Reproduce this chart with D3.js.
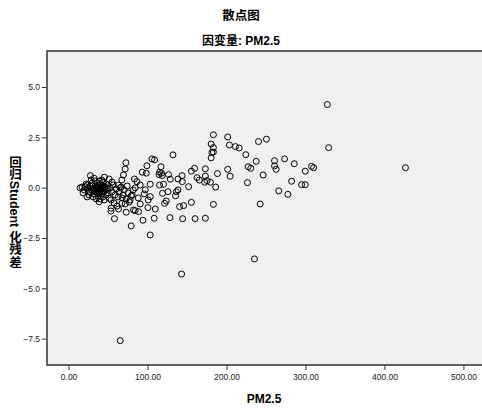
<!DOCTYPE html>
<html>
<head>
<meta charset="utf-8">
<script src="https://cdn.jsdelivr.net/npm/d3@7/dist/d3.min.js"></script>
<style>
  body { margin: 0; background: #fff; }
  text { font-family: "Liberation Sans", Arial, "Noto Sans CJK SC", sans-serif; }
  .tick text { font-size: 8.5px; fill: #222; }
  .bold { font-weight: bold; fill: #000; }
</style>
</head>
<body>
<svg id="chart" width="482" height="408"></svg>
<script>
// PM2.5 vs studentized residual
const sparse = [
  [327.7,4.13],[329.3,1.99],[426.6,0.99],[65.4,-7.60],[235.4,-3.54],[143.1,-4.29],[103.4,-2.35],
  [79.3,-1.90],[58.1,-1.54],[94.2,-1.62],[108.5,-1.52],[128.4,-1.49],[144.4,-1.54],[160.2,-1.54],
  [173.2,-1.52],[183.4,-0.83],[242.6,-0.81],[266.2,-0.16],[277.7,-0.33],[183.4,2.63],[201.5,2.52],
  [180.5,2.17],[183.4,1.99],[183.4,1.77],[181.5,1.75],[180.5,1.48],[173.2,0.94],[203.7,2.12],
  [211.3,2.04],[216.0,1.97],[240.5,2.29],[250.6,2.41],[224.4,1.64],[237.6,1.31],[260.8,1.34],
  [273.5,1.43],[285.8,1.19],[260.8,1.08],[262.9,0.91],[227.4,1.04],[230.7,0.96],[307.7,1.06],
  [310.3,0.99],[299.7,0.82],[201.5,0.91],[204.6,0.57],[188.5,0.70],[173.2,0.58],[175.4,0.35],
  [172.3,0.27],[179.6,0.27],[186.3,0.03],[246.4,0.63],[226.5,0.25],[282.4,0.32],[295.1,0.15],
  [299.7,0.15],[165.6,0.38],[132.2,1.63],[105.6,1.43],[108.9,1.38],[99.2,1.09],[117.0,1.04],
  [93.3,0.77],[98.4,0.72],[115.2,0.77],[117.8,0.72],[114.5,0.65],[118.7,0.60],[126.6,0.65],
  [128.8,0.42],[138.6,0.43],[143.7,0.60],[144.0,0.30],[155.5,0.82],[159.6,0.96],[162.7,0.50],
  [152.0,0.05],[120.3,0.17],[115.2,0.13],[103.4,0.17],[83.5,0.43],[86.5,0.30],[138.6,-0.11],
  [136.4,-0.20],[119.0,-0.28],[125.9,-0.20],[103.4,-0.45],[123.7,-0.66],[121.6,-0.78],[155.5,-0.73],
  [140.6,-0.94],[145.7,-0.89],[109.8,-1.06],[88.6,-1.19],[82.2,-1.11],[73.0,-1.22],[63.2,-1.06],
  [53.6,-1.16],[38.7,-0.70],[100.5,-0.99],[135.5,-0.40],[72.6,1.24],[71.7,0.93],[69.5,0.63],
  [67.5,0.38],[27.7,0.60],[23.9,0.13],[32.4,0.47],[45.4,0.52],[42.1,0.38],[20.9,0.05],[25.1,-0.20],
  [51.8,-0.53],[53.9,-1.02],[63.2,0.13],[65.4,-0.01],[67.5,-0.78],[84.4,-1.14]
];
const cluster = [
  [17.1,0.03],[19.7,-0.11],[22.2,0.18],[24.7,-0.01],[27.3,0.08],[27.3,-0.21],[29.8,0.23],[31.1,-0.06],
  [32.4,-0.31],[33.6,0.08],[34.9,-0.16],[36.2,0.23],[37.4,-0.01],[37.4,-0.41],[38.7,-0.21],[40.0,0.13],
  [41.2,-0.06],[42.5,-0.31],[43.8,0.28],[43.8,-0.46],[45.1,0.03],[46.3,-0.16],[47.6,0.18],[47.6,-0.36],
  [48.9,-0.06],[50.1,-0.26],[34.9,-0.56],[31.1,-0.46],[26.0,-0.36],[40.0,-0.56],[45.1,-0.61],[14.6,-0.01],
  [18.4,-0.26],[23.5,-0.46],[28.6,0.38],[33.6,0.33],[38.7,0.33],[42.5,0.13],[46.3,0.03],[52.7,-0.01],
  [55.2,-0.21],[56.5,0.13],[59.0,-0.36],[60.3,-0.06],[62.8,-0.46],[64.1,-0.21],[66.6,0.03],[69.2,-0.36],
  [70.4,-0.11],[73.0,-0.56],[74.2,0.08],[75.5,-0.26],[53.9,-0.61],[57.7,-0.76],[61.5,-0.91],[67.9,-0.51],
  [71.7,-0.81],[76.8,-0.71],[79.3,-0.41],[81.9,-0.11],[84.4,-0.01],[90.7,0.13],[97.1,-0.11],[80.6,-0.36],
  [88.2,-0.51],[95.8,-0.31],[78.0,-0.61],[100.9,-0.61],[90.7,-0.81],[55.2,0.28],[51.4,0.43],
  [32.4,-0.11],[36.2,-0.26],[40.0,-0.16],[42.5,-0.01],[34.9,0.03],
  [35.5,0.0],[38.0,0.1],[41.0,-0.1],[44.0,-0.2],[39.0,-0.3],[36.0,-0.1],[43.0,0.05],[30.0,0.1],
  [29.0,-0.1],[33.0,-0.2],[45.5,-0.05],[49.5,0.1]
];
const xTicks = [0, 100, 200, 300, 400, 500];
const yTicks = [5, 2.5, 0, -2.5, -5, -7.5];
const title = "散点图";
const subtitle = "因变量: PM2.5";
const xTitle = "PM2.5";
const yTitle = "回归Student 化残差";

const points = sparse.concat(cluster);

const W = 482, H = 408;
const margin = { top: 51, right: 0, bottom: 43, left: 47 };
const innerW = W - margin.left - margin.right + 2;
const innerH = H - margin.top - margin.bottom;

const x = d3.scaleLinear().domain([-27.3, 523.5 + 2 / 0.788]).range([0, innerW]);
const y = d3.scaleLinear().domain([-8.81, 6.79]).range([innerH, 0]);

const svg = d3.select("#chart");

svg.append("text").attr("class", "bold")
  .attr("x", 241).attr("y", 20).attr("text-anchor", "middle")
  .style("font-size", "12.5px").text(title);
svg.append("text").attr("class", "bold")
  .attr("x", 241).attr("y", 45).attr("text-anchor", "middle")
  .style("font-size", "12px").text(subtitle);

const g = svg.append("g").attr("transform", `translate(${margin.left},${margin.top})`);

g.append("rect")
  .attr("x", 0).attr("y", 0).attr("width", innerW).attr("height", innerH)
  .attr("fill", "#f0f0f0").attr("stroke", "#333").attr("stroke-width", 1.5);

const xAxis = d3.axisBottom(x).tickValues(xTicks).tickSize(5).tickPadding(4)
  .tickFormat(d3.format(".2f"));
const gx = g.append("g").attr("transform", `translate(0,${innerH})`).call(xAxis);
gx.select(".domain").remove();
gx.selectAll(".tick line").attr("stroke", "#333");

const yAxis = d3.axisLeft(y).tickValues(yTicks).tickSize(5).tickPadding(2)
  .tickFormat(d3.format(".1f"));
const gy = g.append("g").call(yAxis);
gy.select(".domain").remove();
gy.selectAll(".tick line").attr("stroke", "#333");

g.append("g").selectAll("circle")
  .data(points)
  .enter()
  .append("circle")
  .attr("cx", d => x(d[0]))
  .attr("cy", d => y(d[1]))
  .attr("r", 3)
  .attr("fill", "none")
  .attr("stroke", "#000")
  .attr("stroke-width", 1);

svg.append("text").attr("class", "bold")
  .attr("x", 264).attr("y", 403).attr("text-anchor", "middle")
  .style("font-size", "12px").text(xTitle);

svg.append("text").attr("class", "bold")
  .attr("x", 14).attr("y", 212).attr("text-anchor", "middle")
  .style("writing-mode", "vertical-rl")
  .style("font-size", "12.5px").text(yTitle);
</script>
</body>
</html>
